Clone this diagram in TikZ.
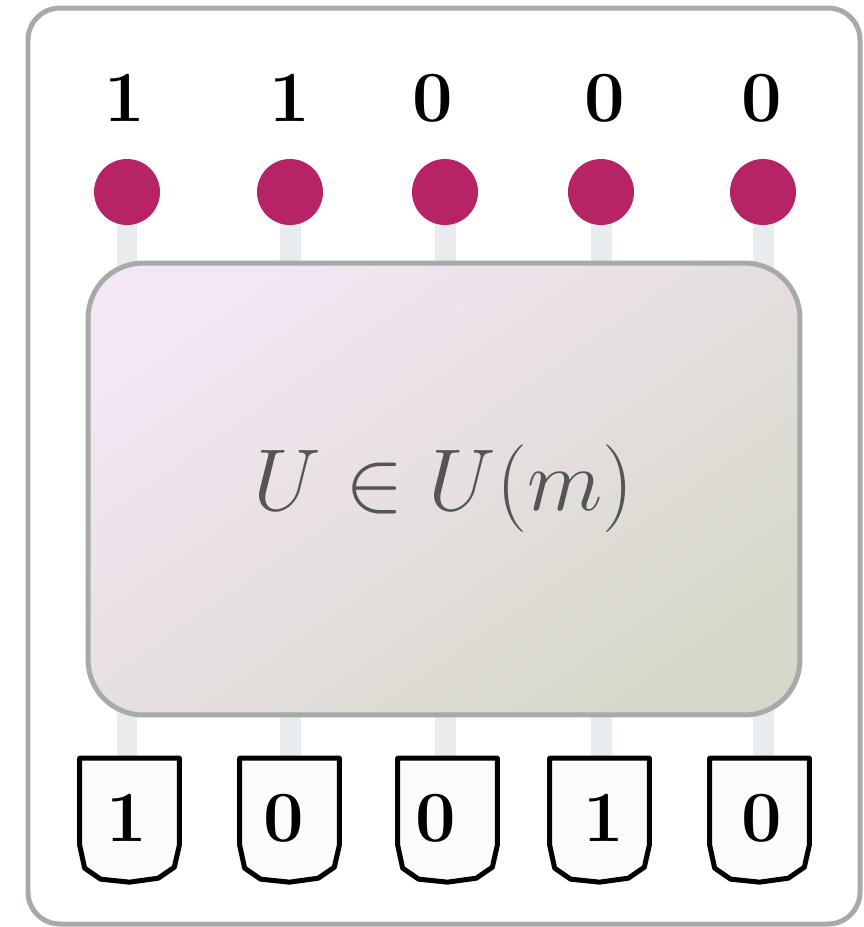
\RequirePackage{fix-cm}
\documentclass[tikz,border=0pt]{standalone}
\usetikzlibrary{backgrounds,calc}
\definecolor{frameg}{HTML}{A6AAA9}
\definecolor{dotc}{HTML}{B72466}
\definecolor{stemc}{HTML}{E9ECEF}
\definecolor{boxtop}{HTML}{F4E6F5}
\definecolor{boxbot}{HTML}{D7D8CA}
\definecolor{mfill}{HTML}{FAFBFD}
\definecolor{utext}{HTML}{555555}
\tikzset{
  frame/.style={draw=frameg, line width=0.1cm, rounded corners=0.64cm},
  dot/.style={circle, fill=dotc, minimum size=1.32cm, inner sep=0pt},
  stemline/.style={draw=stemc, line width=0.42cm},
  ubox/.style={draw=frameg, line width=0.1cm, rounded corners=1.1cm,
    top color=boxtop, bottom color=boxbot, shading angle=35,
    minimum width=14.24cm, minimum height=9.04cm, text=utext,
    font=\fontsize{50}{50}\selectfont},
  bit/.style={font=\fontsize{41}{41}\selectfont\bfseries, inner sep=0pt},
  meterbox/.style={minimum width=1.98cm, minimum height=2.5cm, inner sep=0pt},
  meter/.style={draw=black, line width=0.1cm, fill=mfill, line join=round},
}
\begin{document}
\begin{tikzpicture}[x=0.02cm,y=-0.02cm]
\useasboundingbox (0,0) rectangle (864,927);
\path[frame] (28,8) rectangle (860,924);
% unitary box
\node[ubox] (U) at (444,489) {$U\in U(m)$};
% top bits and dots
\foreach \i/\lx/\cx/\b in {1/125/127/1, 2/290/290/1, 3/433/445/0, 4/605/601/0, 5/762/763/0}{
  \node[bit] (t\i) at (\lx,98) {\b};
  \node[dot] (c\i) at (\cx,192) {};
}
% meters
\foreach \i/\mx/\lx/\b in {1/80/127/1, 2/240/284/0, 3/398/436/0, 4/550/604/1, 5/710/762/0}{
  \node[meterbox] (m\i) at ({\mx+49.5},821) {};
  \path[meter] (m\i.north west) -- (m\i.north east)
     -- ($(m\i.north east)+(0,87)$) -- ($(m\i.north east)+(-5,109)$)
     -- ($(m\i.north east)+(-21,120)$) -- ($(m\i.north)+(0,124)$)
     -- ($(m\i.north west)+(21,121)$) -- ($(m\i.north west)+(5,110)$)
     -- ($(m\i.north west)+(0,87)$) -- cycle;
  \node[bit] (b\i) at (\lx,818) {\b};
}
% stems behind everything
\begin{pgfonlayer}{background}
\foreach \i in {1,...,5}{
  \draw[stemline] (c\i.center) -- (c\i.center |- m\i.north);
}
\end{pgfonlayer}
\end{tikzpicture}
\end{document}
